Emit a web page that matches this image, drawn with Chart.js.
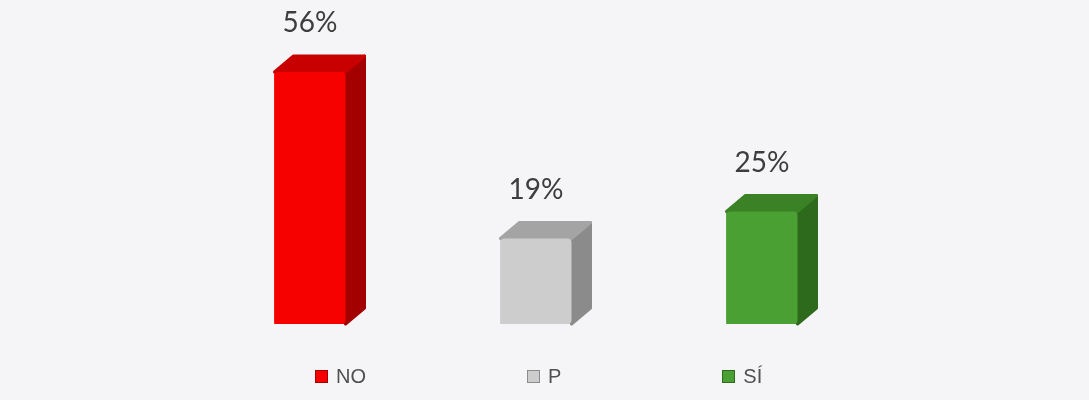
<!DOCTYPE html>
<html>
<head>
<meta charset="utf-8">
<script src="https://cdn.jsdelivr.net/npm/chart.js@4"></script>
<style>
  html, body { margin: 0; padding: 0; background: #f5f5f7; }
  .wrap { position: relative; width: 1089px; height: 400px; }
  #legend {
    position: absolute; left: 315px; top: 365px;
    display: flex; gap: 161px;
    font-family: "Liberation Sans", Arial, sans-serif; font-size: 20px; color: #505050;
  }
  #legend span.item { display: flex; align-items: center; }
  #legend i { display: inline-block; width: 11px; height: 11px; margin-right: 8px; border: 1px solid; }
</style>
</head>
<body>
<div class="wrap">
  <canvas id="myChart" width="1089" height="400"></canvas>
  <div id="legend"></div>
</div>
<script>
const categories = ['NO', 'P', 'SÍ'];
const values = [56, 19, 25];
const frontColors = ['#f70000', '#cdcdcd', '#4aa032'];
const topColors = ['#c90000', '#a4a4a4', '#3b8125'];
const sideColors = ['#a30000', '#8b8b8b', '#2e6a1c'];

// fake 3d: top and side faces drawn from the bar geometry
const cubePlugin = {
  id: 'cube',
  afterDatasetsDraw(chart) {
    const ctx = chart.ctx;
    const meta = chart.getDatasetMeta(0);
    const dx = 19, dy = 16;
    meta.data.forEach((bar, i) => {
      const { x, y, base, width } = bar.getProps(['x', 'y', 'base', 'width'], true);
      const l = x - width / 2, r = x + width / 2;
      ctx.save();
      ctx.lineJoin = 'round';
      ctx.lineWidth = 3;

      ctx.beginPath();
      ctx.moveTo(r, y);
      ctx.lineTo(r + dx, y - dy);
      ctx.lineTo(r + dx, base - dy);
      ctx.lineTo(r, base);
      ctx.closePath();
      ctx.fillStyle = sideColors[i];
      ctx.strokeStyle = sideColors[i];
      ctx.fill();
      ctx.stroke();

      ctx.beginPath();
      ctx.moveTo(l, y);
      ctx.lineTo(l + dx, y - dy);
      ctx.lineTo(r + dx, y - dy);
      ctx.lineTo(r, y);
      ctx.closePath();
      ctx.fillStyle = topColors[i];
      ctx.strokeStyle = topColors[i];
      ctx.fill();
      ctx.stroke();

      // front face redrawn with soft corners
      ctx.beginPath();
      ctx.roundRect(l, y, width, base - y, 4);
      ctx.fillStyle = frontColors[i];
      ctx.fill();

      ctx.font = '28px Lato, "Open Sans", sans-serif';
      ctx.fillStyle = '#3d3d3d';
      ctx.textAlign = 'center';
      ctx.textBaseline = 'middle';
      ctx.fillText(values[i] + '%', x, y - 49);
      ctx.restore();
    });
  }
};

new Chart(document.getElementById('myChart'), {
  type: 'bar',
  data: {
    labels: categories,
    datasets: [{
      data: values,
      backgroundColor: frontColors,
      barThickness: 71
    }]
  },
  options: {
    responsive: false,
    animation: false,
    layout: { padding: { left: 197, right: 214, top: 54, bottom: 76 } },
    scales: {
      x: { display: false },
      y: { display: false, min: 0, max: 60 }
    },
    plugins: {
      legend: { display: false },
      tooltip: { enabled: false }
    }
  },
  plugins: [cubePlugin]
});

const legend = document.getElementById('legend');
categories.forEach((c, i) => {
  const item = document.createElement('span');
  item.className = 'item';
  const box = document.createElement('i');
  box.style.background = frontColors[i];
  box.style.borderColor = sideColors[i];
  item.appendChild(box);
  item.appendChild(document.createTextNode(c));
  legend.appendChild(item);
});
</script>
</body>
</html>
